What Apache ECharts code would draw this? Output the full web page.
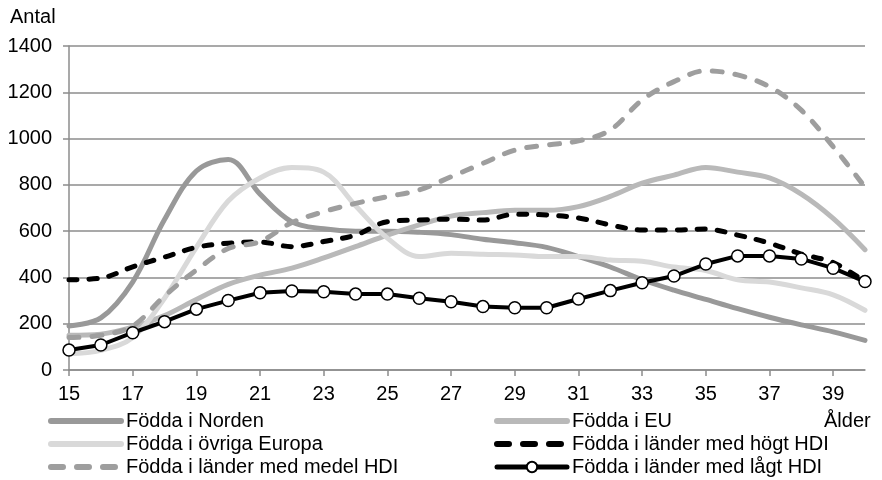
<!DOCTYPE html>
<html>
<head>
<meta charset="utf-8">
<script src="https://cdn.jsdelivr.net/npm/echarts@6/dist/echarts.min.js"></script>
<style>
  html, body { margin: 0; padding: 0; background: #fff; }
  #grafico { width: 882px; height: 480px; }
</style>
</head>
<body>
<div id="grafico"></div>
<script>
// Ålder 15-40
var alder = ["15","16","17","18","19","20","21","22","23","24","25","26","27",
             "28","29","30","31","32","33","34","35","36","37","38","39","40"];

var norden = [190, 225, 380, 650, 860, 910, 760, 640, 610, 600, 600, 595, 585,
              565, 550, 530, 490, 445, 390, 345, 305, 265, 228, 195, 165, 128];
var eu = [150, 155, 185, 235, 305, 370, 410, 440, 484, 533, 583, 627, 665,
          680, 690, 690, 706, 750, 807, 842, 875, 855, 830, 760, 655, 520];
var ovrigaEuropa = [70, 85, 140, 310, 530, 730, 830, 875, 855, 710, 570, 490, 505,
                    500, 497, 490, 490, 475, 470, 445, 430, 390, 380, 355, 325, 258];
var hogtHDI = [390, 397, 446, 488, 530, 548, 553, 533, 555, 583, 641, 648, 652,
               648, 673, 670, 657, 627, 605, 605, 609, 583, 548, 501, 464, 382];
var medelHDI = [140, 150, 190, 320, 432, 525, 555, 637, 684, 720, 749, 778, 835,
                893, 950, 972, 990, 1037, 1167, 1246, 1293, 1275, 1224, 1123, 965, 790];
var lagtHDI = [86, 108, 161, 209, 263, 300, 334, 341, 338, 328, 328, 310, 295,
               274, 269, 269, 307, 343, 377, 406, 458, 493, 493, 480, 440, 382];

var fuente = "Liberation Sans, Arial, sans-serif";
var sinSimbolo = { opacity: 0 };
var guionLeyenda = { width: 6, type: [12, 14] };

function linea(nombre, datos, color, ancho, tipo, z){
    return {
        name: nombre,
        type: "line",
        data: datos,
        smooth: 0.35,
        symbol: "none",
        z: z,
        lineStyle: { color: color, width: ancho, type: tipo, cap: "round" },
        itemStyle: { color: color }
    };
}

var estiloLeyenda = {
    orient: "vertical", top: 411, itemGap: 3, padding: 0,
    itemWidth: 70, itemHeight: 13,
    lineStyle: { width: 6, cap: "round" },
    textStyle: { fontSize: 20, color: "#000", fontFamily: fuente }
};

var dom = document.getElementById("grafico");
var myChart = echarts.init(dom);
var option = {
    animation: false,
    textStyle: { fontFamily: fuente },
    grid: { left: 69, right: 17, top: 46, bottom: 110 },
    graphic: [
        { type: "text", left: 10, top: 7,
          style: { text: "Antal", font: "20px " + fuente, fill: "#000" } },
        { type: "text", left: 824, top: 411,
          style: { text: "Ålder", font: "20px " + fuente, fill: "#000" } }
    ],
    legend: [
        Object.assign({}, estiloLeyenda, {
            left: 48,
            data: [
                { name: "Födda i Norden", itemStyle: sinSimbolo },
                { name: "Födda i övriga Europa", itemStyle: sinSimbolo },
                { name: "Födda i länder med medel HDI", itemStyle: sinSimbolo, lineStyle: guionLeyenda }
            ]
        }),
        Object.assign({}, estiloLeyenda, {
            left: 494,
            data: [
                { name: "Födda i EU", itemStyle: sinSimbolo },
                { name: "Födda i länder med högt HDI", itemStyle: sinSimbolo, lineStyle: guionLeyenda },
                { name: "Födda i länder med lågt HDI", lineStyle: { width: 5 } }
            ]
        })
    ],
    xAxis: {
        type: "category",
        data: alder,
        boundaryGap: false,
        axisLine: { lineStyle: { color: "#8c8c8c", width: 1.5 } },
        axisTick: { show: true, interval: 1, length: 6, lineStyle: { color: "#8c8c8c", width: 1.5 } },
        axisLabel: { interval: 1, fontSize: 20, color: "#000", margin: 14, fontFamily: fuente },
        splitLine: { show: false }
    },
    yAxis: {
        type: "value",
        min: 0, max: 1400, interval: 200,
        axisLine: { show: true, lineStyle: { color: "#8c8c8c", width: 1.5 } },
        axisTick: { show: true, length: 6, lineStyle: { color: "#8c8c8c", width: 1.5 } },
        axisLabel: {
            fontSize: 20, color: "#000", margin: 17, fontFamily: fuente,
            formatter: function(v){ return String(v); }
        },
        splitLine: { lineStyle: { color: "#8c8c8c", width: 1.5 } }
    },
    series: [
        linea("Födda i Norden", norden, "#999999", 5, "solid", 2),
        linea("Födda i EU", eu, "#b9b9b9", 5, "solid", 2),
        linea("Födda i övriga Europa", ovrigaEuropa, "#d9d9d9", 5, "solid", 2),
        linea("Födda i länder med högt HDI", hogtHDI, "#000000", 5, [8, 12], 3),
        linea("Födda i länder med medel HDI", medelHDI, "#9e9e9e", 5, [10, 13], 3),
        {
            name: "Födda i länder med lågt HDI",
            type: "line",
            data: lagtHDI,
            smooth: false,
            z: 4,
            symbol: "circle",
            symbolSize: 12,
            showSymbol: true,
            lineStyle: { color: "#000", width: 4 },
            itemStyle: { color: "#fff", borderColor: "#000", borderWidth: 1.5 }
        }
    ]
};
myChart.setOption(option, true);

window.addEventListener("resize", function(){
    if(myChart != null && myChart != undefined){
        myChart.resize();
    }
});
</script>
</body>
</html>
